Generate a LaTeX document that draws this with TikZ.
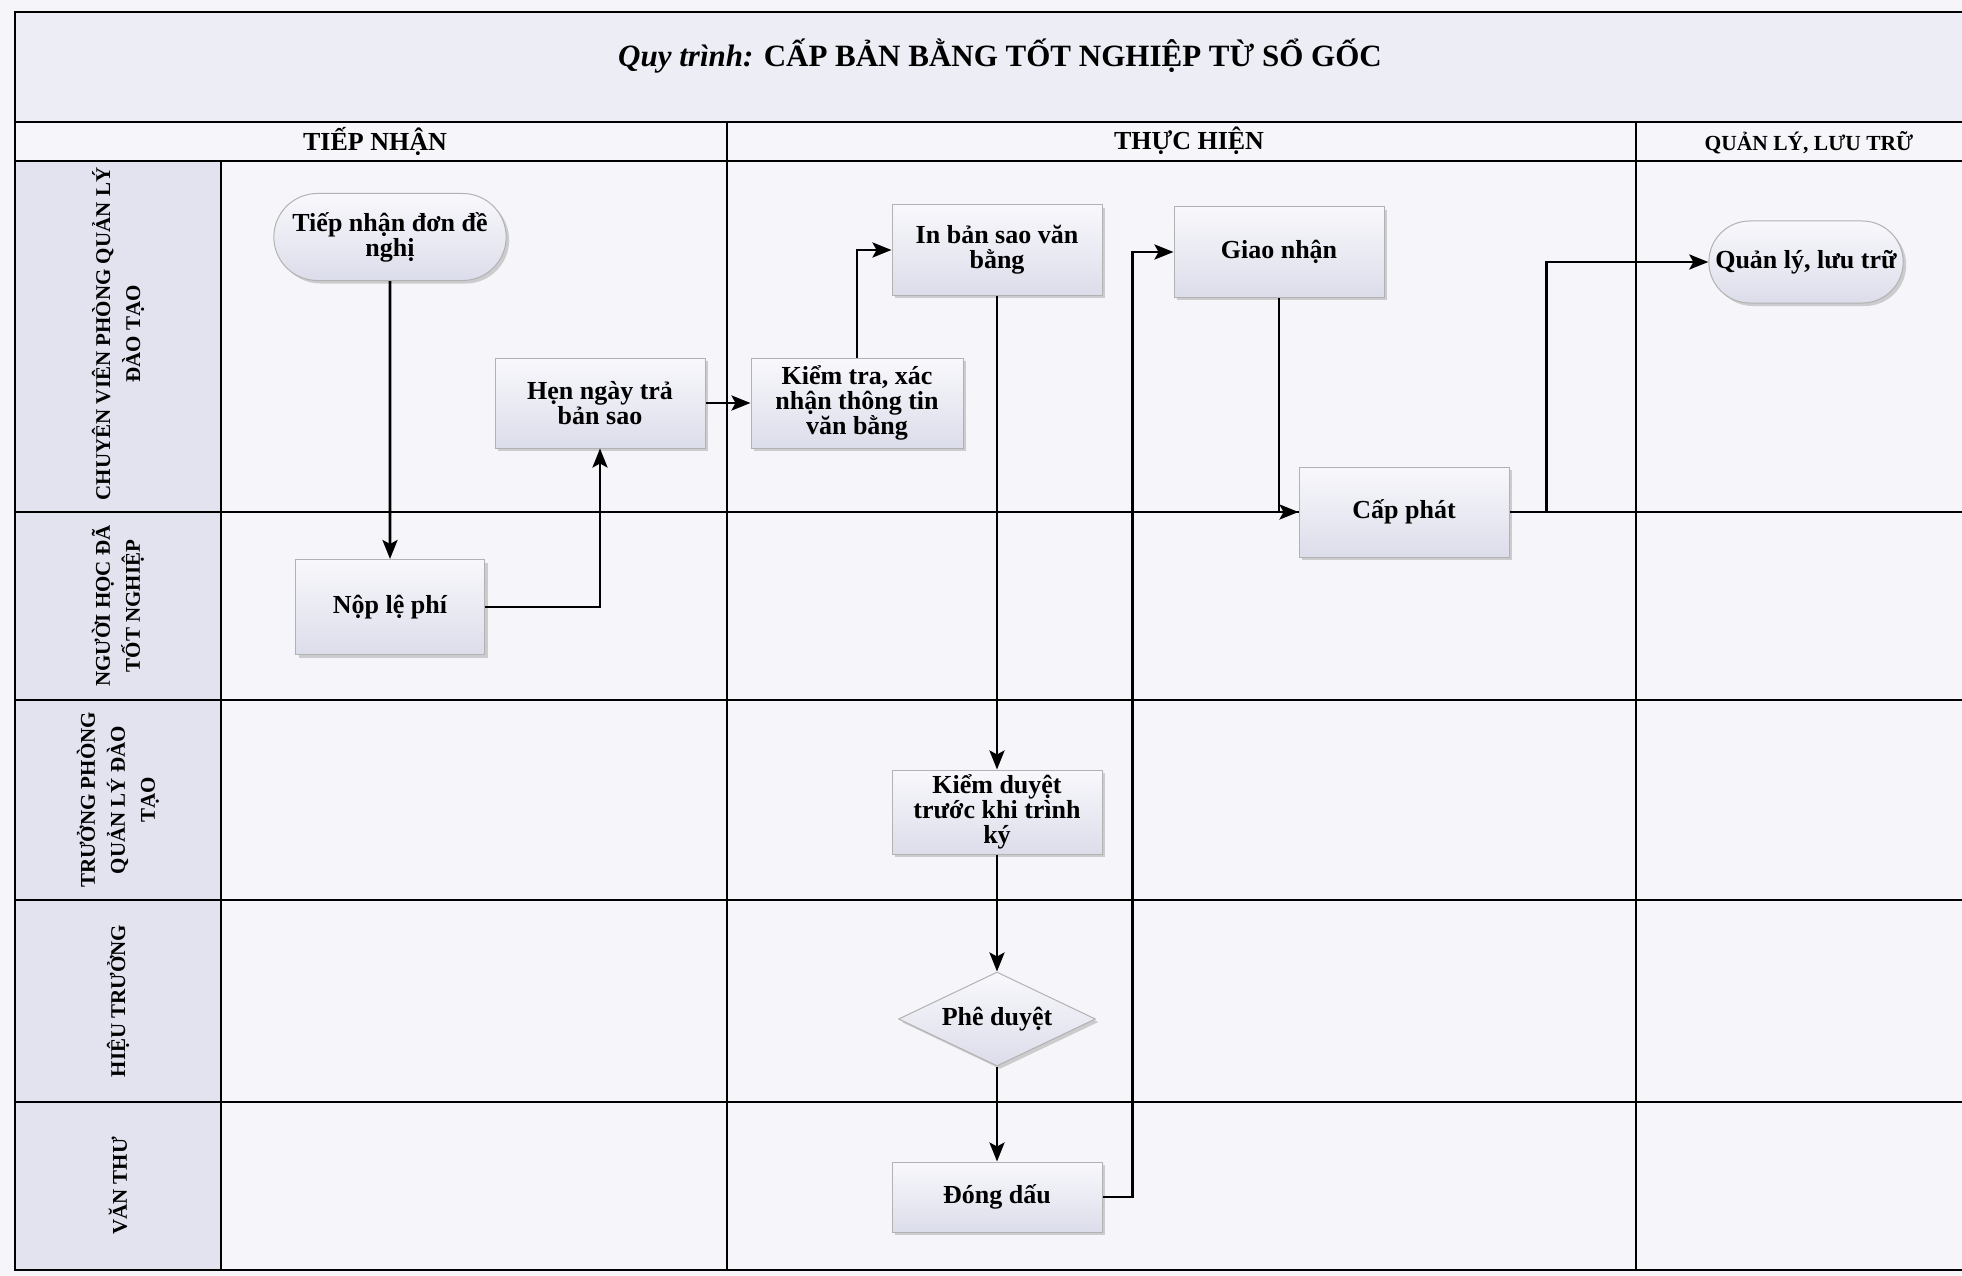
\documentclass[tikz,border=0pt]{standalone}
\usepackage{fontspec}
\setmainfont{Liberation Serif}
\usetikzlibrary{shapes.geometric,shapes.misc,shadows,arrows.meta}
\definecolor{paper}{RGB}{246,246,250}
\definecolor{band}{RGB}{237,237,245}
\definecolor{lanehead}{RGB}{226,227,239}
\definecolor{boxlight}{RGB}{248,248,252}
\definecolor{boxdark}{RGB}{220,221,234}

\begin{document}
\begin{tikzpicture}[x=1pt, y=-1pt,
  grid/.style={line width=2.4pt},
  proc/.style={draw=gray!60, line width=1pt, minimum width=210pt, minimum height=90pt,
              top color=boxlight, bottom color=boxdark, align=center,
              font=\fontsize{26}{25}\selectfont\bfseries,
              drop shadow={shadow xshift=3pt, shadow yshift=-3pt, fill=gray, opacity=0.35}},
  term/.style={proc, rounded rectangle, minimum width=201pt, minimum height=82pt},
  decide/.style={proc, diamond, aspect=2.1, inner sep=0pt, minimum width=197pt, minimum height=94pt},
  lane/.style={rotate=90, align=center, font=\fontsize{21}{30}\selectfont\bfseries},
  phase/.style={font=\fontsize{26}{26}\selectfont\bfseries},
  arrow/.style={->, >={Stealth[length=19pt, width=15pt, inset=4pt]}, line width=2.8pt},
]
\useasboundingbox (0,0) rectangle (1962,1276);

% Background
\fill[paper] (0,0) rectangle (1962,1276);
\fill[band] (15,12) rectangle (1962,122);
\fill[lanehead] (15,161) rectangle (221,1270);

% Frame and lanes
\draw[grid] (1962,12) -- (15,12) -- (15,1270) -- (1962,1270);
\draw[grid] (15,122) -- (1962,122);
\draw[grid] (15,161) -- (1962,161);
\foreach \y in {512,700,900,1102}
  \draw[grid] (15,\y) -- (1962,\y);
\draw[grid] (221,161) -- (221,1270);
\draw[grid] (727,122) -- (727,1270);
\draw[grid] (1636,122) -- (1636,1270);

% Title
\node[font=\fontsize{31}{32}\selectfont\bfseries] (title) at (1000,56)
  {\textit{Quy trình:} CẤP BẢN BẰNG TỐT NGHIỆP TỪ SỔ GỐC};

% Phases
\node[phase] (ph1) at (375,141) {TIẾP NHẬN};
\node[phase] (ph2) at (1189,141) {THỰC HIỆN};
\node[phase, font=\fontsize{21.5}{22}\selectfont\bfseries] (ph3) at (1809,143) {QUẢN LÝ, LƯU TRỮ};

% Lanes
\node[lane] (l1) at (118,334) {CHUYÊN VIÊN PHÒNG QUẢN LÝ\\ĐÀO TẠO};
\node[lane] (l2) at (118,606) {NGƯỜI HỌC ĐÃ\\TỐT NGHIỆP};
\node[lane] (l3) at (118,800) {TRƯỞNG PHÒNG\\QUẢN LÝ ĐÀO\\TẠO};
\node[lane] (l4) at (118,1001) {HIỆU TRƯỞNG};
\node[lane] (l5) at (118,1186) {VĂN THƯ};

% Steps
\node[term, minimum width=239pt, minimum height=87pt] (tiepnhan) at (390,237) {Tiếp nhận đơn đề\\nghị};
\node[proc, minimum width=189pt, minimum height=95pt] (noplephi) at (390,607) {Nộp lệ phí};
\node[proc] (henngay) at (600,403) {Hẹn ngày trả\\bản sao};
\node[proc, minimum width=212pt] (kiemtra) at (857,403) {Kiểm tra, xác\\nhận thông tin\\văn bằng};
\node[proc] (inbansao) at (997,250) {In bản sao văn\\bằng};
\node[proc, minimum height=84pt] (kiemduyet) at (997,812) {Kiểm duyệt\\trước khi trình\\ký};
\node[decide] (pheduyet) at (997,1019) {Phê duyệt};
\node[proc, minimum height=70pt] (dongdau) at (997,1197) {Đóng dấu};
\node[proc] (giaonhan) at (1279,252) {Giao nhận};
\node[proc] (capphat) at (1404,512) {Cấp phát};
\node[term] (quanly) at (1806,262) {Quản lý, lưu trữ};

% Connectors
\draw[arrow] (tiepnhan) -- (noplephi);
\draw[arrow] (noplephi.east) -| (henngay.south);
\draw[arrow] (henngay) -- (kiemtra);
\draw[arrow] (kiemtra.north) |- (inbansao.west);
\draw[arrow] (inbansao) -- (kiemduyet);
\draw[arrow] (kiemduyet) -- (pheduyet);
\draw[arrow] (pheduyet) -- (dongdau);
\draw[arrow] (dongdau.east) -- ++(30,0) |- (giaonhan.west);
\draw[arrow] (giaonhan.south) |- (capphat.west);
\draw[arrow] (capphat.east) -- ++(37,0) |- (quanly.west);

\end{tikzpicture}
\end{document}
